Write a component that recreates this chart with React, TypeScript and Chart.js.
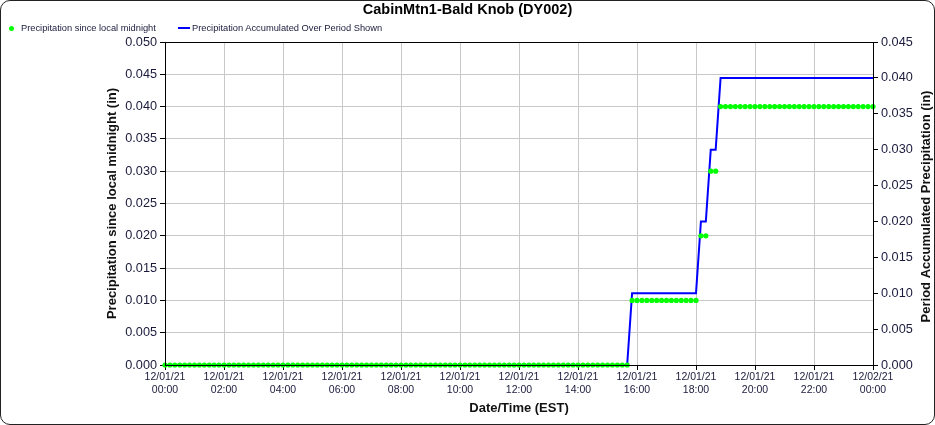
import React, { useEffect, useRef } from "react";
import { Chart, registerables } from "chart.js";

Chart.register(...registerables);

// ---- Data ----
const chartTitle = "CabinMtn1-Bald Knob (DY002)";
const seriesNames = ["Precipitation since local midnight", "Precipitation Accumulated Over Period Shown"];
const sampleMinutes = 10; // observation interval (minutes since 12/01/21 00:00)

// Precipitation since local midnight (in), one value per 10 minutes, 00:00 -> 24:00
const precipSinceMidnight = [
  // 00:00 - 14:50
  0, 0, 0, 0, 0, 0, 0, 0, 0, 0, 0, 0, 0, 0, 0, 0, 0, 0, 0, 0, 0, 0, 0, 0, 0, 0, 0, 0, 0, 0,
  0, 0, 0, 0, 0, 0, 0, 0, 0, 0, 0, 0, 0, 0, 0, 0, 0, 0, 0, 0, 0, 0, 0, 0, 0, 0, 0, 0, 0, 0,
  0, 0, 0, 0, 0, 0, 0, 0, 0, 0, 0, 0, 0, 0, 0, 0, 0, 0, 0, 0, 0, 0, 0, 0, 0, 0, 0, 0, 0, 0,
  // 15:00 - 15:50
  0, 0, 0, 0, 0, 0.01,
  // 16:00 - 17:50
  0.01, 0.01, 0.01, 0.01, 0.01, 0.01, 0.01, 0.01, 0.01, 0.01, 0.01, 0.01,
  // 18:00 - 18:50
  0.01, 0.02, 0.02, 0.03, 0.03, 0.04,
  // 19:00 - 23:50
  0.04, 0.04, 0.04, 0.04, 0.04, 0.04, 0.04, 0.04, 0.04, 0.04, 0.04, 0.04, 0.04, 0.04, 0.04,
  0.04, 0.04, 0.04, 0.04, 0.04, 0.04, 0.04, 0.04, 0.04, 0.04, 0.04, 0.04, 0.04, 0.04, 0.04,
  // 24:00
  0.04,
];

// Precipitation accumulated over period shown (in)
const precipAccumulated = [
  0, 0, 0, 0, 0, 0, 0, 0, 0, 0, 0, 0, 0, 0, 0, 0, 0, 0, 0, 0, 0, 0, 0, 0, 0, 0, 0, 0, 0, 0,
  0, 0, 0, 0, 0, 0, 0, 0, 0, 0, 0, 0, 0, 0, 0, 0, 0, 0, 0, 0, 0, 0, 0, 0, 0, 0, 0, 0, 0, 0,
  0, 0, 0, 0, 0, 0, 0, 0, 0, 0, 0, 0, 0, 0, 0, 0, 0, 0, 0, 0, 0, 0, 0, 0, 0, 0, 0, 0, 0, 0,
  0, 0, 0, 0, 0, 0.01,
  0.01, 0.01, 0.01, 0.01, 0.01, 0.01, 0.01, 0.01, 0.01, 0.01, 0.01, 0.01,
  0.01, 0.02, 0.02, 0.03, 0.03, 0.04,
  0.04, 0.04, 0.04, 0.04, 0.04, 0.04, 0.04, 0.04, 0.04, 0.04, 0.04, 0.04, 0.04, 0.04, 0.04,
  0.04, 0.04, 0.04, 0.04, 0.04, 0.04, 0.04, 0.04, 0.04, 0.04, 0.04, 0.04, 0.04, 0.04, 0.04,
  0.04,
];

const xTickDates = [
  "12/01/21", "12/01/21", "12/01/21", "12/01/21", "12/01/21", "12/01/21", "12/01/21",
  "12/01/21", "12/01/21", "12/01/21", "12/01/21", "12/01/21", "12/02/21",
];
const xTickTimes = [
  "00:00", "02:00", "04:00", "06:00", "08:00", "10:00", "12:00",
  "14:00", "16:00", "18:00", "20:00", "22:00", "00:00",
];
const xTickStepMinutes = 120;
const xTitle = "Date/Time (EST)";
const yLeftTitle = "Precipitation since local midnight (in)";
const yRightTitle = "Period Accumulated Precipitation (in)";
const yLeftMax = 0.05;
const yRightMax = 0.045;
const yStep = 0.005;

const FONT = "'Liberation Sans', Arial, Helvetica, sans-serif";
const TICK_COLOR = "#1a1a3c";

const boxPlugin = {
  id: "plotBox",
  afterDatasetsDraw(chart: any) {
    const { ctx, chartArea } = chart;
    ctx.save();
    ctx.strokeStyle = "#000";
    ctx.lineWidth = 1;
    ctx.strokeRect(
      Math.round(chartArea.left) + 0.5,
      Math.round(chartArea.top) + 0.5,
      Math.round(chartArea.right - chartArea.left),
      Math.round(chartArea.bottom - chartArea.top)
    );
    ctx.restore();
  },
  afterDraw(chart: any) {
    // right axis title, reading bottom-to-top like the left one
    const { ctx, chartArea } = chart;
    const s = chart.scales.y1;
    ctx.save();
    ctx.fillStyle = "#111";
    ctx.font = `bold 13px ${FONT}`;
    ctx.textAlign = "center";
    ctx.textBaseline = "middle";
    ctx.translate(s.right - 9, (chartArea.top + chartArea.bottom) / 2 + 3);
    ctx.rotate(-Math.PI / 2);
    ctx.fillText(yRightTitle, 0, 0);
    ctx.restore();
  },
};

export default function App() {
  const ref = useRef<HTMLCanvasElement | null>(null);

  useEffect(() => {
    document.body.style.margin = "0";
    const canvas = ref.current;
    if (!canvas) return;
    const greenPts = precipSinceMidnight.map((v, i) => ({ x: i * sampleMinutes, y: v }));
    const bluePts = precipAccumulated.map((v, i) => ({ x: i * sampleMinutes, y: v }));

    const chart = new Chart(canvas, {
      type: "line",
      data: {
        datasets: [
          {
            label: seriesNames[0],
            data: greenPts,
            yAxisID: "y",
            showLine: false,
            pointRadius: 2.6,
            pointBackgroundColor: "#00ff00",
            pointBorderColor: "#00ff00",
            pointBorderWidth: 0,
            borderColor: "#00ff00",
            backgroundColor: "#00ff00",
            clip: false as any,
            order: 0,
          },
          {
            label: seriesNames[1],
            data: bluePts,
            yAxisID: "y1",
            pointRadius: 0,
            borderColor: "#0000ff",
            backgroundColor: "#0000ff",
            borderWidth: 2,
            tension: 0,
            order: 1,
          },
        ],
      },
      options: {
        responsive: false,
        maintainAspectRatio: false,
        animation: false,
        layout: { padding: 0 },
        plugins: {
          legend: { display: false },
          tooltip: { enabled: false },
          title: {
            display: true,
            text: chartTitle,
            color: "#000",
            font: { family: FONT, size: 14.5, weight: "bold", lineHeight: 1.2 },
            padding: { top: 1.3, bottom: 23.3 },
          },
        },
        scales: {
          x: {
            type: "linear",
            min: 0,
            max: 1440,
            afterFit: (s: any) => {
              s.height = 60;
            },
            ticks: {
              stepSize: xTickStepMinutes,
              autoSkip: false,
              maxRotation: 0,
              padding: 1,
              color: TICK_COLOR,
              font: { family: FONT, size: 10.5, lineHeight: 1.2 },
              callback: (v: any) => {
                const i = Math.round(Number(v) / xTickStepMinutes);
                return [xTickDates[i], xTickTimes[i]];
              },
            },
            grid: {
              color: "#c8c8c8",
              tickColor: "#000",
              tickLength: 5,
              lineWidth: 1,
            },
            border: { color: "#000", width: 1 },
            title: {
              display: true,
              text: xTitle,
              color: "#111",
              font: { family: FONT, size: 13, weight: "bold", lineHeight: 1.2 },
              padding: { top: 0, bottom: 9.2 },
            },
          },
          y: {
            type: "linear",
            position: "left",
            min: 0,
            max: yLeftMax,
            afterFit: (s: any) => {
              s.width = 165;
            },
            ticks: {
              stepSize: yStep,
              padding: 3,
              color: TICK_COLOR,
              font: { family: FONT, size: 12.7 },
              callback: (v: any) => Number(v).toFixed(3),
            },
            grid: {
              color: "#c8c8c8",
              tickColor: "#000",
              tickLength: 5,
            },
            border: { color: "#000", width: 1 },
            title: {
              display: true,
              text: yLeftTitle,
              color: "#111",
              font: { family: FONT, size: 13, weight: "bold", lineHeight: 1.2 },
              padding: { top: 105, bottom: 0 },
            },
          },
          y1: {
            type: "linear",
            position: "right",
            min: 0,
            max: yRightMax,
            afterFit: (s: any) => {
              s.width = 62;
            },
            ticks: {
              stepSize: yStep,
              padding: 3,
              color: TICK_COLOR,
              font: { family: FONT, size: 12.7 },
              callback: (v: any) => Number(v).toFixed(3),
            },
            grid: {
              drawOnChartArea: false,
              tickColor: "#000",
              tickLength: 5,
            },
            border: { color: "#000", width: 1 },
            title: { display: false },
          },
        },
      },
      plugins: [boxPlugin],
    });
    return () => chart.destroy();
  }, []);

  const legendText: React.CSSProperties = {
    position: "absolute",
    top: 22,
    fontFamily: FONT,
    fontSize: 9.3,
    color: TICK_COLOR,
    lineHeight: "12px",
    whiteSpace: "nowrap",
  };

  return (
    <div style={{ position: "relative", width: 935, height: 425, background: "#fff" }}>
      <canvas ref={ref} width={935} height={425} style={{ display: "block", width: 935, height: 425 }} />
      <div
        style={{
          position: "absolute",
          left: 8.5,
          top: 25.5,
          width: 5,
          height: 5,
          borderRadius: "50%",
          background: "#00ff00",
        }}
      />
      <div style={{ ...legendText, left: 21 }}>{seriesNames[0]}</div>
      <div
        style={{
          position: "absolute",
          left: 178,
          top: 27,
          width: 12,
          height: 2,
          background: "#0000ff",
        }}
      />
      <div style={{ ...legendText, left: 192 }}>{seriesNames[1]}</div>
      <div
        style={{
          position: "absolute",
          left: 0,
          top: 0,
          width: 935,
          height: 425,
          boxSizing: "border-box",
          border: "1.5px solid #222",
          borderRadius: 10,
          pointerEvents: "none",
        }}
      />
    </div>
  );
}
